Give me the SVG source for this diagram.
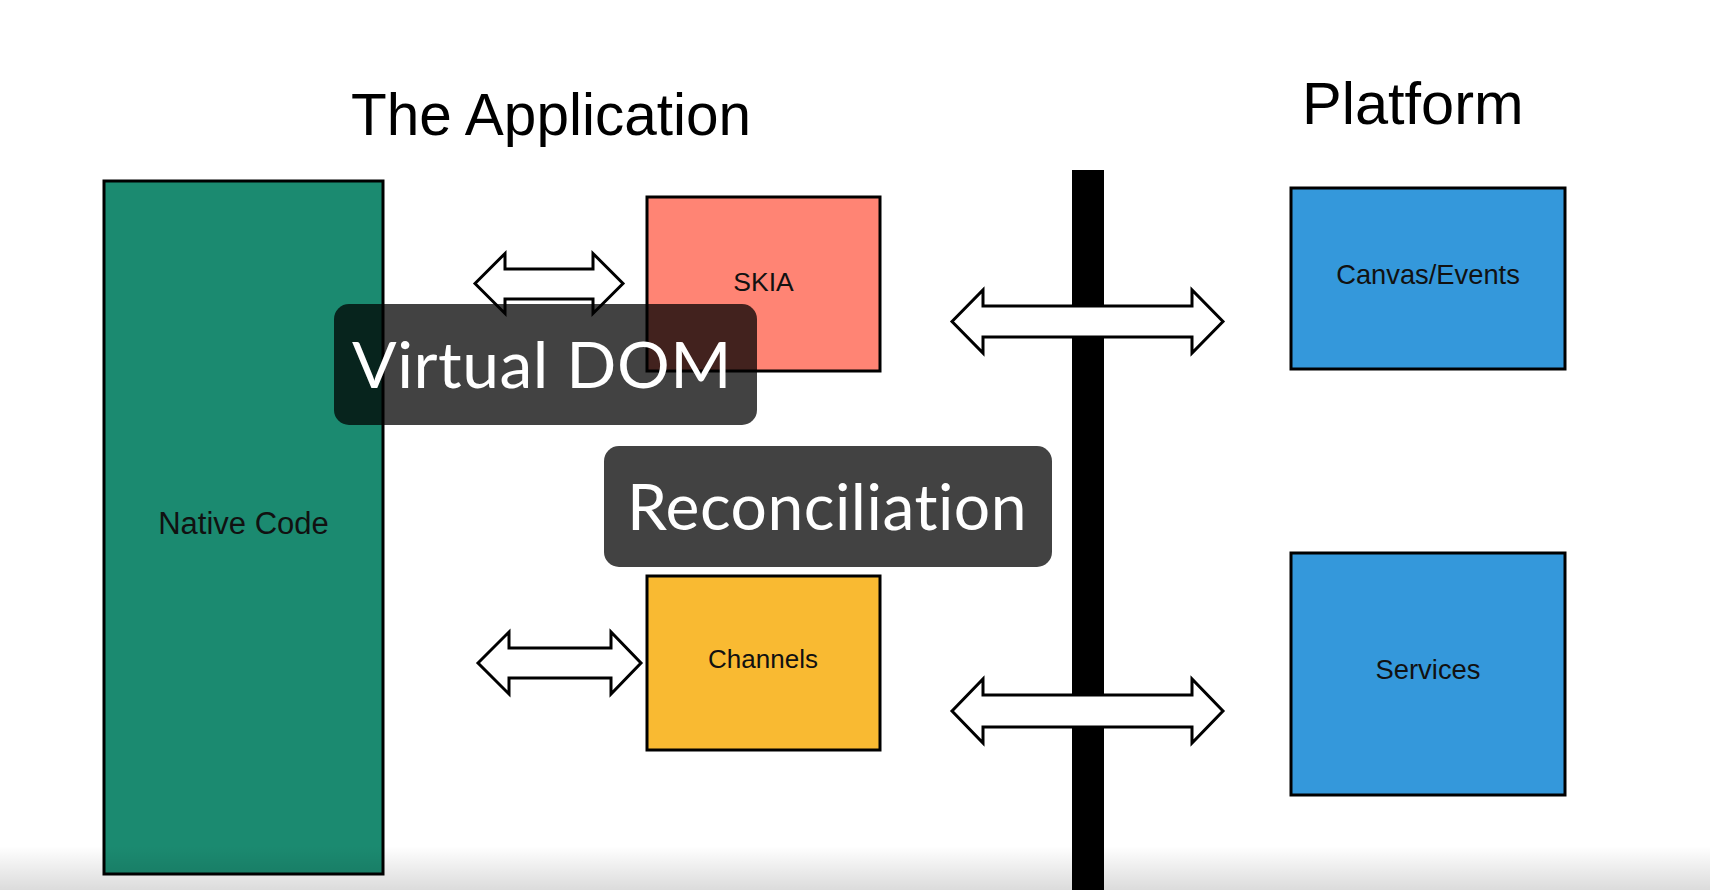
<svg xmlns="http://www.w3.org/2000/svg" width="1710" height="890" viewBox="0 0 1710 890">
<defs>
<style>
.box{stroke:#000;stroke-width:3}
.lbl{font-family:"Liberation Sans",Arial,sans-serif;fill:#111;text-anchor:middle}
.title{font-family:"Liberation Sans",Arial,sans-serif;fill:#000}
.arrow{fill:#fff;stroke:#000;stroke-width:3;stroke-linejoin:miter}
.ovl{fill:#000;fill-opacity:0.74}
.ovt{font-family:Lato,"Open Sans",sans-serif;fill:#fff;font-size:64px;font-variant-ligatures:none;font-feature-settings:"liga" 0,"dlig" 0,"clig" 0;letter-spacing:0.5px}
</style>
<linearGradient id="fade" x1="0" y1="0" x2="0" y2="1">
<stop offset="0" stop-color="#000" stop-opacity="0"/>
<stop offset="1" stop-color="#000" stop-opacity="0.14"/>
</linearGradient>
</defs>
<rect width="1710" height="890" fill="#fff"/>
<text class="title" x="351" y="135" font-size="58.5">The Application</text>
<text class="title" x="1302" y="124" font-size="59.5">Platform</text>
<rect id="bar" x="1072" y="170" width="32" height="720" fill="#000"/>
<g id="native-code"><rect class="box" x="104" y="181" width="279" height="693" fill="#1b8a70"/><text class="lbl" x="243.5" y="534" font-size="31">Native Code</text></g>
<g id="skia"><rect class="box" x="647" y="197" width="233" height="174" fill="#ff8474"/><text class="lbl" x="763.5" y="291" font-size="26.5">SKIA</text></g>
<g id="channels"><rect class="box" x="647" y="576" width="233" height="174" fill="#f9ba32"/><text class="lbl" x="763" y="668" font-size="26">Channels</text></g>
<g id="canvas-events"><rect class="box" x="1291" y="188" width="274" height="181" fill="#3498db"/><text class="lbl" x="1428" y="284" font-size="27.3">Canvas/Events</text></g>
<g id="services"><rect class="box" x="1291" y="553" width="274" height="242" fill="#3498db"/><text class="lbl" x="1428" y="679" font-size="27.4">Services</text></g>
<g id="connectors">
<polygon class="arrow" points="475,283.5 505,253.5 505,269 593,269 593,253.5 623,283.5 593,313.5 593,299 505,299 505,313.5"/>
<polygon class="arrow" points="478,663 509,632 509,648 611,648 611,632 641,663 611,694 611,678 509,678 509,694"/>
<polygon class="arrow" points="952,321.5 983,290 983,306 1192,306 1192,290 1223,321.5 1192,353 1192,337 983,337 983,353"/>
<polygon class="arrow" points="952,711 983,679 983,695 1192,695 1192,679 1223,711 1192,743 1192,727 983,727 983,743"/>
</g>
<rect x="0" y="846" width="1710" height="44" fill="url(#fade)"/>
<g id="virtual-dom"><rect class="ovl" x="334" y="304" width="423" height="121" rx="15"/><text class="ovt" x="352" y="388" textLength="380" lengthAdjust="spacingAndGlyphs">Virtual DOM</text></g>
<g id="reconciliation"><rect class="ovl" x="604" y="446" width="448" height="121" rx="15"/><text class="ovt" x="627" y="530" textLength="400" lengthAdjust="spacingAndGlyphs">Reconciliation</text></g>
</svg>
